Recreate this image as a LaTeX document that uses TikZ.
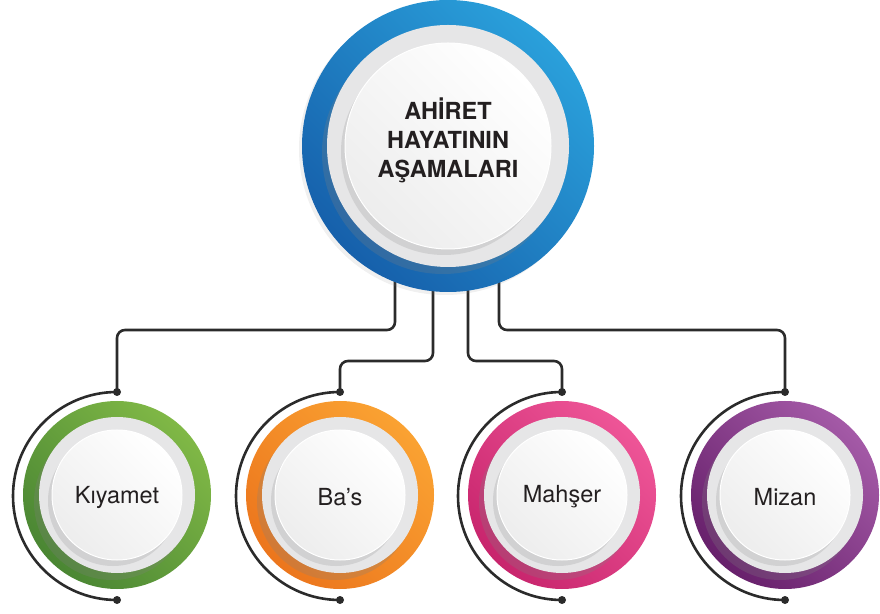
\documentclass[tikz,border=0pt]{standalone}
\usepackage{fontspec}
\setmainfont{TeX Gyre Heros}
\usetikzlibrary{positioning,calc,shadows}
\definecolor{bluel}{HTML}{2AA0DB}
\definecolor{blued}{HTML}{1660AB}
\definecolor{greenl}{HTML}{80B846}
\definecolor{greend}{HTML}{4A8633}
\definecolor{orangel}{HTML}{FAA232}
\definecolor{oranged}{HTML}{EC761D}
\definecolor{pinkl}{HTML}{EE5597}
\definecolor{pinkd}{HTML}{C8256D}
\definecolor{purplel}{HTML}{A45AA7}
\definecolor{purpled}{HTML}{67206B}
\definecolor{wire}{HTML}{2B2B2B}
\definecolor{disc}{HTML}{E6E6E7}
\definecolor{ink}{HTML}{231F20}

\begin{document}
\begin{tikzpicture}[x=1pt,y=1pt,
    line/.style={draw=wire, line width=2.6pt, rounded corners=8pt},
    ring/.style 2 args={shading=axis, top color=#1, bottom color=#2, shading angle=-45},
    greydisc/.style={fill=disc, drop shadow={shadow xshift=-5pt, shadow yshift=-7pt, opacity=.25}},
    face/.style={circle, shading=axis, top color=white, bottom color=gray!14, shading angle=-45,
      draw=white, line width=1pt, drop shadow={shadow xshift=-4pt, shadow yshift=-6pt, opacity=.2}},
    title/.style={align=center, text=ink, font=\bfseries\fontsize{23.5}{29}\selectfont},
    label/.style={text=ink, font=\fontsize{23.5}{28}\selectfont}]
    \useasboundingbox (0,0) rectangle (880,613);
    \coordinate (c) at (448,467);
    % bottom circles
    \foreach \n/\x/\col/\txt in {k/117/green/Kıyamet, b/340/orange/Ba’s,
        m/562/pink/Mahşer, z/785/purple/Mizan} {
      \coordinate (\n-c) at (\x,118);
      \coordinate (\n-top) at (\x,221);
      \coordinate (\n-bot) at (\x,13);
      \draw [line] (\n-top) arc [start angle=90, end angle=270, radius=104];
      \fill [wire] (\n-top) circle (4);
      \fill [wire] (\n-bot) circle (4);
      \shade [ring={\col l}{\col d}] (\n-c) circle (94);
      \fill [greydisc] (\n-c) circle (78);
      \node [face, minimum size=130pt] (\n) at (\n-c) {};
      \node [label] (\n-txt) at ([yshift=-2pt]\n.center) {\txt};
    }
    % connectors
    \draw [line] ([xshift=-53pt]c) |- ($(k-top)+(0,62)$) -- (k-top);
    \draw [line] ([xshift=-15pt]c) |- ($(b-top)+(0,31)$) -- (b-top);
    \draw [line] ([xshift=20pt]c) |- ($(m-top)+(0,31)$) -- (m-top);
    \draw [line] ([xshift=51pt]c) |- ($(z-top)+(0,62)$) -- (z-top);
    % top circle
    \shade [ring={bluel}{blued}, drop shadow={shadow xshift=-3pt, shadow yshift=-3pt, opacity=.12}] (c) circle (146);
    \fill [greydisc] (c) circle (121);
    \node [face, minimum size=206pt] (top) at (c) {};
    \node [title] (top-txt) at ([yshift=6pt]top.center) {AHİRET\\HAYATININ\\AŞAMALARI};
\end{tikzpicture}
\end{document}
